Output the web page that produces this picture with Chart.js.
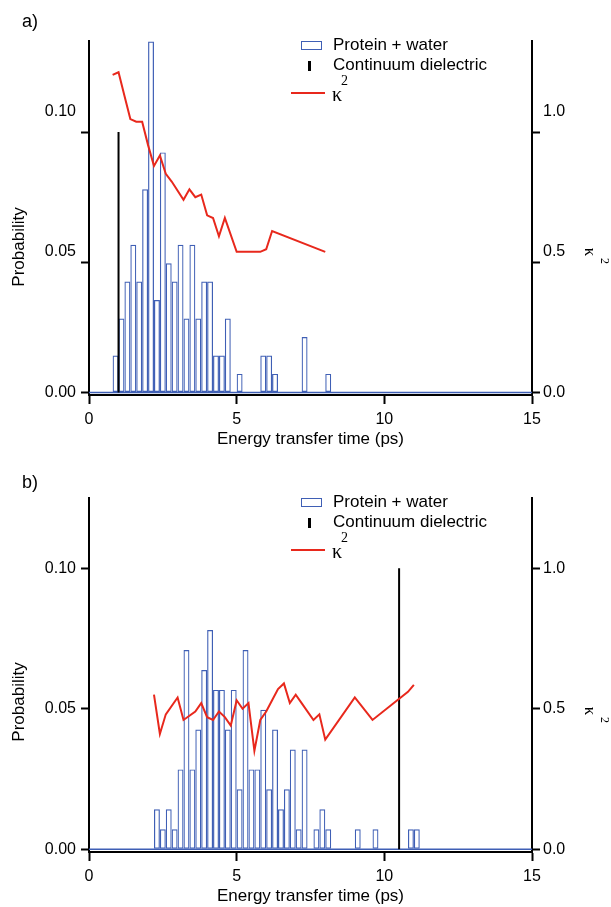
<!DOCTYPE html>
<html>
<head>
<meta charset="utf-8">
<script src="https://cdn.jsdelivr.net/npm/chart.js@4.4.1/dist/chart.umd.min.js"></script>
<style>
  html, body { margin: 0; padding: 0; background: #fff; }
  #wrap { position: relative; width: 611px; height: 907px; font-family: "Liberation Sans", Arial, sans-serif; color: #000; }
  .panel { position: absolute; left: 0; width: 611px; height: 457px; }
  .panel canvas { position: absolute; left: 0; top: 0; }
  .txt { position: absolute; white-space: nowrap; line-height: 1; font-size: 17px; }
  .serif { font-family: "Liberation Serif", "Times New Roman", serif; }
  .rot-l { transform: translate(-50%, -50%) rotate(-90deg); }
  .rot-r { transform: translate(-50%, -50%) rotate(90deg); }
  .leg-box { position: absolute; left: 301px; top: 41px; width: 21px; height: 9px; box-sizing: border-box; border: 1.5px solid #3f5fb5; }
  .leg-bar { position: absolute; left: 308px; top: 61px; width: 3px; height: 10px; background: #000; }
  .leg-line { position: absolute; left: 291px; top: 92px; width: 34px; height: 2px; background: #e8281c; }
</style>
</head>
<body>
<div id="wrap">
  <div class="panel" style="top:0">
    <canvas id="chartA" width="611" height="457"></canvas>
    <div class="txt" style="left:22px; top:12px; font-size:18px">a)</div>
    <div class="txt rot-l" style="left:18px; top:247px">Probability</div>
    <div class="txt serif rot-r" style="left:590px; top:252px; font-size:17px">κ</div>
    <div class="txt serif rot-r" style="left:605px; top:261px; font-size:12px">2</div>
    <div class="leg-box"></div>
    <div class="txt" style="left:333px; top:36px">Protein + water</div>
    <div class="leg-bar"></div>
    <div class="txt" style="left:333px; top:56px">Continuum dielectric</div>
    <div class="leg-line"></div>
    <div class="txt serif" style="left:332px; top:84px; font-size:20px">κ</div>
    <div class="txt serif" style="left:341px; top:74px; font-size:14px">2</div>
  </div>
  <div class="panel" style="top:457px">
    <canvas id="chartB" width="611" height="457"></canvas>
    <div class="txt" style="left:22px; top:16px; font-size:18px">b)</div>
    <div class="txt rot-l" style="left:18px; top:245px">Probability</div>
    <div class="txt serif rot-r" style="left:590px; top:254px; font-size:17px">κ</div>
    <div class="txt serif rot-r" style="left:605px; top:263px; font-size:12px">2</div>
    <div class="leg-box"></div>
    <div class="txt" style="left:333px; top:36px">Protein + water</div>
    <div class="leg-bar"></div>
    <div class="txt" style="left:333px; top:56px">Continuum dielectric</div>
    <div class="leg-line"></div>
    <div class="txt serif" style="left:332px; top:84px; font-size:20px">κ</div>
    <div class="txt serif" style="left:341px; top:74px; font-size:14px">2</div>
  </div>
</div>
<script>
// Panel a: protein + water histogram (bin centres, ps) and kappa^2
const binsA = [0.9, 1.1, 1.3, 1.5, 1.7, 1.9, 2.1, 2.3, 2.5, 2.7, 2.9, 3.1, 3.3, 3.5, 3.7, 3.9, 4.1, 4.3, 4.5, 4.7, 5.1, 5.9, 6.1, 6.3, 7.3, 8.1];
const probA = [0.0142, 0.0284, 0.0426, 0.0567, 0.0426, 0.0780, 0.1348, 0.0355, 0.0922, 0.0496, 0.0426, 0.0567, 0.0284, 0.0567, 0.0284, 0.0426, 0.0426, 0.0142, 0.0142, 0.0284, 0.0071, 0.0142, 0.0142, 0.0071, 0.0213, 0.0071];
const kappaTimeA = [0.8, 1.0, 1.2, 1.4, 1.6, 1.8, 2.0, 2.2, 2.4, 2.6, 2.8, 3.2, 3.4, 3.6, 3.8, 4.0, 4.2, 4.4, 4.6, 5.0, 5.8, 6.0, 6.2, 8.0];
const kappaA = [1.22, 1.23, 1.14, 1.05, 1.04, 1.04, 0.95, 0.87, 0.91, 0.84, 0.81, 0.74, 0.78, 0.75, 0.76, 0.68, 0.67, 0.60, 0.67, 0.54, 0.54, 0.55, 0.62, 0.54];
const continuumA = 1.0;

// Panel b
const binsB = [2.3, 2.5, 2.7, 2.9, 3.1, 3.3, 3.5, 3.7, 3.9, 4.1, 4.3, 4.5, 4.7, 4.9, 5.1, 5.3, 5.5, 5.7, 5.9, 6.1, 6.3, 6.5, 6.7, 6.9, 7.1, 7.3, 7.7, 7.9, 8.1, 9.1, 9.7, 10.9, 11.1];
const probB = [0.0142, 0.0071, 0.0142, 0.0071, 0.0284, 0.0709, 0.0284, 0.0426, 0.0638, 0.0780, 0.0567, 0.0567, 0.0426, 0.0567, 0.0213, 0.0709, 0.0284, 0.0284, 0.0496, 0.0213, 0.0426, 0.0142, 0.0213, 0.0355, 0.0071, 0.0355, 0.0071, 0.0142, 0.0071, 0.0071, 0.0071, 0.0071, 0.0071];
const kappaTimeB = [2.2, 2.4, 2.6, 3.0, 3.2, 3.6, 3.8, 4.0, 4.2, 4.4, 4.6, 4.8, 5.0, 5.2, 5.4, 5.6, 5.8, 6.0, 6.2, 6.4, 6.6, 6.8, 7.0, 7.2, 7.6, 7.8, 8.0, 9.0, 9.6, 10.8, 11.0];
const kappaB = [0.55, 0.41, 0.48, 0.54, 0.46, 0.49, 0.52, 0.47, 0.46, 0.49, 0.47, 0.44, 0.53, 0.50, 0.52, 0.35, 0.46, 0.49, 0.53, 0.57, 0.59, 0.52, 0.55, 0.52, 0.46, 0.48, 0.39, 0.54, 0.46, 0.56, 0.585];
const continuumB = 10.5;

const continuumHeight = 0.10;
const timeRange = [0, 15];
const timeTicks = [0, 5, 10, 15];
const probTicks = [0, 0.05, 0.10];
const kappaTicks = [0, 0.5, 1.0];

const BLUE = '#3f5fb5';
const RED = '#e8281c';

Chart.defaults.font.family = '"Liberation Sans", Arial, sans-serif';
Chart.defaults.font.size = 16;
Chart.defaults.color = '#000';

// panel a has its tick labels spread further apart than the tick marks
const stretchedLabels = {
    id: 'stretchedLabels',
    afterDraw(chart, args, opts) {
        if (!opts.stretch) return;
        const ctx = chart.ctx;
        ctx.save();
        ctx.font = '16px "Liberation Sans", Arial, sans-serif';
        ctx.fillStyle = '#000';
        ctx.textBaseline = 'middle';
        ['y', 'y2'].forEach(id => {
            const s = chart.scales[id];
            const zero = s.getPixelForValue(0);
            const gap = s.options.grid.tickLength + s.options.ticks.padding;
            s.ticks.forEach(t => {
                const y = zero + (s.getPixelForValue(t.value) - zero) * opts.stretch;
                const label = id === 'y' ? t.value.toFixed(2) : t.value.toFixed(1);
                if (s.position === 'left') {
                    ctx.textAlign = 'right';
                    ctx.fillText(label, s.right - gap, y);
                } else {
                    ctx.textAlign = 'left';
                    ctx.fillText(label, s.left + gap, y);
                }
            });
        });
        ctx.restore();
    }
};

function pairs(xs, ys) {
    return xs.map((x, i) => ({ x: x, y: ys[i] }));
}

function axisGrid() {
    return { display: true, offset: false, drawOnChartArea: false, drawTicks: true, tickLength: 8, tickWidth: 2, tickColor: '#000' };
}

function makePanel(id, p) {
    const ctx = document.getElementById(id).getContext('2d');
    return new Chart(ctx, {
        type: 'bar',
        data: {
            datasets: [{
                type: 'line',
                label: 'κ²',
                data: pairs(p.kx, p.ky),
                yAxisID: 'y2',
                borderColor: RED,
                borderWidth: 2,
                pointRadius: 0,
                tension: 0,
                order: 0
            }, {
                type: 'line',
                label: 'Continuum dielectric',
                data: [{ x: p.cont, y: 0 }, { x: p.cont, y: continuumHeight }],
                yAxisID: 'y',
                borderColor: '#000',
                borderWidth: 2,
                pointRadius: 0,
                order: 1
            }, {
                type: 'bar',
                label: 'Protein + water',
                data: pairs(p.bins, p.prob),
                yAxisID: 'y',
                backgroundColor: 'rgba(255,255,255,0)',
                borderColor: BLUE,
                borderWidth: 1.2,
                borderSkipped: false,
                inflateAmount: 0,
                barPercentage: 1,
                categoryPercentage: 1,
                order: 2
            }, {
                type: 'line',
                label: 'baseline',
                data: pairs(timeRange, [0, 0]),
                yAxisID: 'y',
                borderColor: BLUE,
                borderWidth: 1.5,
                pointRadius: 0,
                order: 3
            }]
        },
        options: {
            responsive: false,
            animation: false,
            events: [],
            layout: { padding: { top: 41, left: 0, right: 0, bottom: 0 } },
            plugins: {
                legend: { display: false },
                tooltip: { enabled: false },
                stretchedLabels: { stretch: p.stretch }
            },
            scales: {
                x: {
                    type: 'linear',
                    min: timeRange[0],
                    max: timeRange[1],
                    offset: false,
                    afterBuildTicks: s => { s.ticks = timeTicks.map(v => ({ value: v })); },
                    afterFit: s => { s.height = 62; },
                    grid: Object.assign(axisGrid(), { tickLength: 9 }),
                    border: { display: true, color: '#000', width: 2 },
                    ticks: { color: '#000', padding: 6, maxRotation: 0, callback: v => String(v) },
                    title: { display: true, text: 'Energy transfer time (ps)', color: '#000', font: { size: 17 }, padding: { top: 0, bottom: 7 } }
                },
                y: {
                    type: 'linear',
                    position: 'left',
                    min: -p.pad,
                    max: p.yMax,
                    afterBuildTicks: s => { s.ticks = probTicks.map(v => ({ value: v })); },
                    afterFit: s => { s.width = 89; },
                    grid: axisGrid(),
                    border: { display: true, color: '#000', width: 2 },
                    ticks: { display: !p.stretch, color: '#000', padding: 5, callback: v => v.toFixed(2) }
                },
                y2: {
                    type: 'linear',
                    position: 'right',
                    min: -p.pad * 10,
                    max: p.yMax * 10,
                    afterBuildTicks: s => { s.ticks = kappaTicks.map(v => ({ value: v })); },
                    afterFit: s => { s.width = 79; },
                    grid: axisGrid(),
                    border: { display: true, color: '#000', width: 2 },
                    ticks: { display: !p.stretch, color: '#000', padding: 3, callback: v => v.toFixed(1) }
                }
            }
        },
        plugins: [stretchedLabels]
    });
}

makePanel('chartA', { bins: binsA, prob: probA, kx: kappaTimeA, ky: kappaA, cont: continuumA, yMax: 0.135, pad: 0.001, stretch: 1.08 });
makePanel('chartB', { bins: binsB, prob: probB, kx: kappaTimeB, ky: kappaB, cont: continuumB, yMax: 0.125, pad: 0.001, stretch: 0 });
</script>
</body>
</html>
